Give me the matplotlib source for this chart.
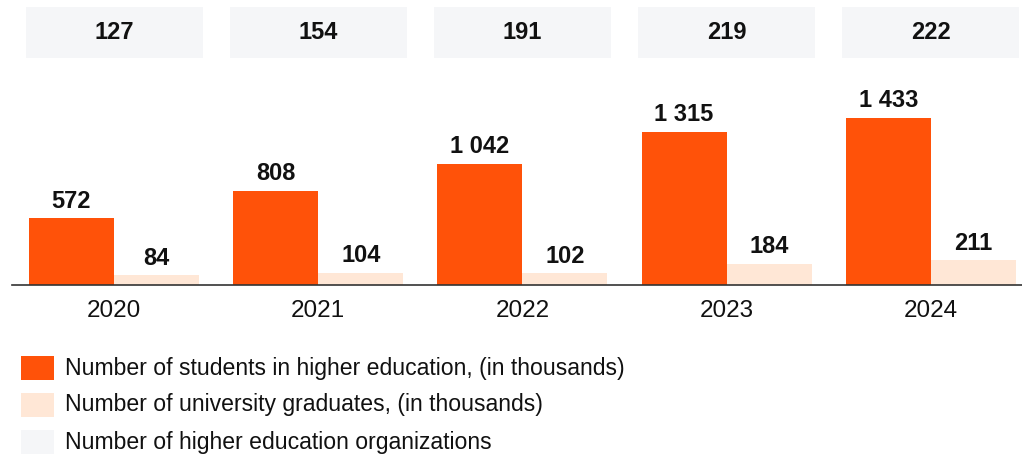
import matplotlib
matplotlib.use("Agg")
import matplotlib.pyplot as plt
from matplotlib.patches import Rectangle
import matplotlib.transforms as mtransforms
import numpy as np

years = ["2020", "2021", "2022", "2023", "2024"]
students = [572, 808, 1042, 1315, 1433]
graduates = [84, 104, 102, 184, 211]
organizations = [127, 154, 191, 219, 222]

legend_labels = [
    "Number of students in higher education, (in thousands)",
    "Number of university graduates, (in thousands)",
    "Number of higher education organizations",
]

ORANGE = "#FF5209"
PEACH = "#FFE7D6"
GREY_BOX = "#F5F6F8"
FONT = "Liberation Sans"


def fmt(v):
    return f"{v:,}".replace(",", " ")


W, H = 1022, 459
fig = plt.figure(figsize=(W / 100, H / 100), dpi=100)

# axes: baseline at 285 px from top, spanning from x=12 px to the right edge
base_px = 285
ax = fig.add_axes([12 / W, (H - base_px) / H, (W - 12) / W, base_px / H])

spacing_px = 204.2
bar_w = 85 / spacing_px
x = np.arange(len(years))
ax.set_xlim(-102 / spacing_px, (W - 12 - 102) / spacing_px)
ax.set_ylim(0, base_px / 0.1166)

b1 = ax.bar(x - bar_w / 2, students, width=bar_w, color=ORANGE, zorder=2)
b2 = ax.bar(x + bar_w / 2, graduates, width=bar_w, color=PEACH, zorder=2)

for bars, vals in ((b1, students), (b2, graduates)):
    for rect, v in zip(bars, vals):
        ax.annotate(fmt(v), (rect.get_x() + rect.get_width() / 2, rect.get_height()),
                    xytext=(0, 4), textcoords="offset points", ha="center", va="bottom",
                    fontsize=17, fontweight="bold", family=FONT, color="#111111")

# organization count boxes along the top
blend = mtransforms.blended_transform_factory(ax.transData, ax.transAxes)
box_w = 177 / spacing_px
y0 = (base_px - 58) / base_px
y1 = (base_px - 7) / base_px
for xi, v in zip(x, organizations):
    ax.add_patch(Rectangle((xi - box_w / 2, y0), box_w, y1 - y0, transform=blend,
                           facecolor=GREY_BOX, edgecolor="none", clip_on=False, zorder=1))
    ax.text(xi, (y0 + y1) / 2, fmt(v), transform=blend, ha="center", va="center",
            fontsize=17, fontweight="bold", family=FONT, color="#111111")

# year labels
for xi, yr in zip(x, years):
    ax.text(xi, (base_px - 311) / base_px, yr, transform=blend, ha="center", va="center",
            fontsize=17.5, family=FONT, color="#111111")

for s in ("top", "left", "right"):
    ax.spines[s].set_visible(False)
ax.spines["bottom"].set_color("#333333")
ax.spines["bottom"].set_linewidth(1.2)
ax.set_xticks([])
ax.set_yticks([])
ax.patch.set_alpha(0)

# legend
leg_colors = [ORANGE, PEACH, GREY_BOX]
for i, (c, lab) in enumerate(zip(leg_colors, legend_labels)):
    top = 356 + 37 * i
    fig.patches.append(Rectangle((21 / W, (H - top - 24) / H), 33 / W, 24 / H,
                                 transform=fig.transFigure, facecolor=c, edgecolor="none"))
    fig.text(65 / W, (H - top - 12) / H, lab, ha="left", va="center",
             fontsize=16.6, family=FONT, color="#111111")

fig.savefig("out.png", dpi=100)
